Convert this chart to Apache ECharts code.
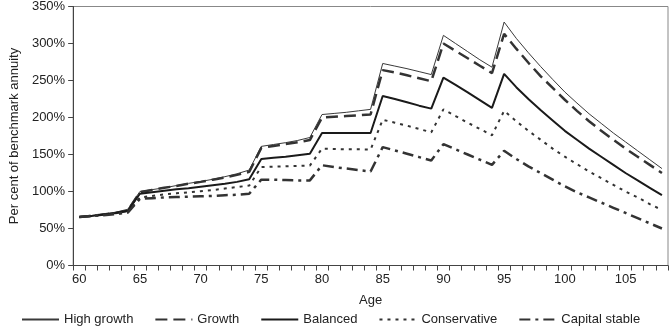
<!DOCTYPE html>
<html>
<head>
<meta charset="utf-8">
<script src="https://cdn.jsdelivr.net/npm/echarts@6/dist/echarts.min.js"></script>
<style>
html,body{margin:0;padding:0;background:#fff;}
#chart{width:669px;height:329px;}
</style>
</head>
<body>
<div id="chart"></div>
<script>
var ages = [];
for (var a = 60; a <= 108; a++) ages.push(String(a));

var seriesNames = ['High growth', 'Growth', 'Balanced', 'Conservative', 'Capital stable'];

var highGrowth = [66, 67.5, 69.5, 72, 76, 100, 102.5, 105, 108, 111, 113.5, 116.5, 120, 124, 129,
  161, 163.5, 166, 169, 173, 204, 205.5, 207, 209, 211, 273, 269.5, 266, 262, 258,
  311, 300, 289, 278, 268, 329, 307, 287.5, 269, 251.5, 234.5, 219.5, 205, 192, 179, 167, 155, 143, 131];

var growth = [65.5, 67, 69, 71, 74, 99, 102, 105, 107.5, 110.5, 113, 116, 119, 122.5, 126.5,
  159, 161.5, 164, 166.5, 169.5, 200, 201, 202, 203, 204, 264, 261, 257, 253, 249,
  300, 290, 280, 270, 260, 313, 293, 274, 256, 240, 224, 209, 195, 182, 170, 158, 147, 136, 125];

var balanced = [65.5, 67, 69, 71, 74, 97, 99, 101, 103, 104.5, 106.5, 108.5, 110.5, 113, 116.5,
  144, 145.5, 147, 149, 151, 179, 179, 179, 179, 179, 229, 225, 220.5, 216, 212,
  254, 244, 234, 223.5, 213, 259, 241, 225, 210, 196, 182, 170, 158, 147, 136, 125, 115, 105, 95];

var conservative = [65.5, 67, 68.5, 70, 72.5, 92, 94, 96, 97.5, 99, 100.5, 102, 104, 106, 108,
  133, 133.5, 134, 134.5, 135, 158, 157.5, 157, 157, 156.5, 197, 193, 189, 184.5, 180,
  211, 202, 193, 184.5, 176, 209, 195, 182, 170, 158, 147, 137, 127, 118, 109, 100, 92, 83, 75];

var capitalStable = [65.5, 67, 68, 69.5, 71.5, 90, 91, 92, 92.5, 93, 93.5, 94, 95, 95.5, 97,
  116, 116, 115.5, 115, 115, 135.5, 133, 131, 129, 127, 160, 155.5, 151, 146.5, 142,
  164, 157, 150, 143, 136, 155, 144, 134, 125, 116, 107, 99, 92, 85, 78, 71, 64, 57, 50];

var yTicks = [0, 50, 100, 150, 200, 250, 300, 350];

var font = 'Liberation Sans, Arial, Helvetica, sans-serif';
var dataSets = [highGrowth, growth, balanced, conservative, capitalStable];
var styles = [
  {width: 1, type: 'solid', color: '#3a3a3a'},
  {width: 2.5, type: [12, 6], color: '#333'},
  {width: 2, type: 'solid', color: '#1a1a1a'},
  {width: 2, type: [3, 5], color: '#333'},
  {width: 2.5, type: [11, 5, 3, 5], color: '#333'}
];

var series = seriesNames.map(function (n, i) {
  return {
    name: n,
    type: 'line',
    data: dataSets[i],
    symbol: 'none',
    showSymbol: false,
    smooth: false,
    lineStyle: styles[i],
    itemStyle: {color: styles[i].color},
    animation: false
  };
});

var chart = echarts.init(document.getElementById('chart'), null, {renderer: 'canvas'});
chart.setOption({
  animation: false,
  backgroundColor: '#fff',
  textStyle: {fontFamily: font},
  grid: {left: 63, right: 1, top: 6, bottom: 63.5, show: true, borderColor: '#888', borderWidth: 1, containLabel: false},
  legend: {
    data: seriesNames,
    top: 308,
    left: 16,
    itemWidth: 37,
    itemHeight: 10,
    itemGap: 21,
    itemStyle: {opacity: 0},
    textStyle: {fontFamily: font, fontSize: 13, color: '#222'}
  },
  xAxis: {
    type: 'category',
    data: ages,
    boundaryGap: true,
    name: 'Age',
    nameLocation: 'middle',
    nameGap: 28,
    nameTextStyle: {fontFamily: font, fontSize: 13, color: '#222'},
    axisLine: {lineStyle: {color: '#444', width: 1}},
    axisTick: {show: true, interval: 0, length: 5, inside: false, lineStyle: {color: '#444'}},
    axisLabel: {interval: 4, fontFamily: font, fontSize: 13, color: '#222', margin: 7},
    splitLine: {show: false}
  },
  yAxis: {
    type: 'value',
    min: yTicks[0],
    max: yTicks[yTicks.length - 1],
    interval: 50,
    name: 'Per cent of benchmark annuity',
    nameLocation: 'middle',
    nameGap: 50,
    nameTextStyle: {fontFamily: font, fontSize: 13, color: '#222'},
    axisLine: {show: true, lineStyle: {color: '#444', width: 1}},
    axisTick: {show: true, length: 5, lineStyle: {color: '#444'}},
    axisLabel: {formatter: '{value}%', fontFamily: font, fontSize: 13, color: '#222', margin: 8},
    splitLine: {show: false}
  },
  series: series
});
</script>
</body>
</html>
